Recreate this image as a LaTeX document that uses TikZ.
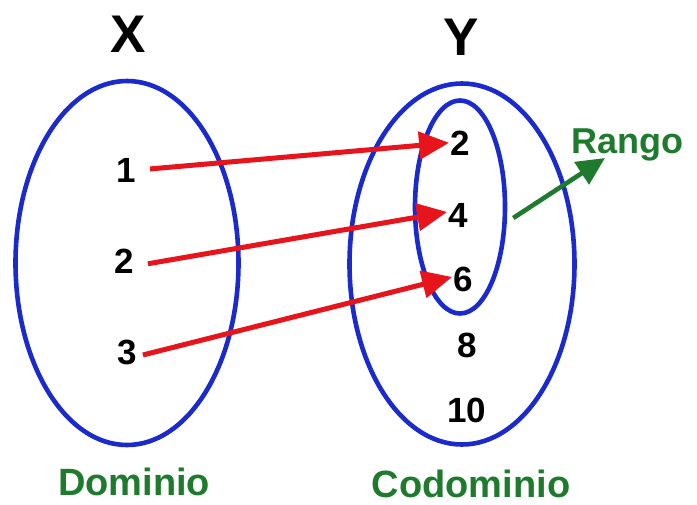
\documentclass[tikz,border=0pt]{standalone}
\usepackage{fontspec}
\setmainfont{Liberation Sans}
\usetikzlibrary{shapes.geometric,arrows.meta}
\definecolor{setblue}{HTML}{1A2ACC}
\definecolor{arrred}{HTML}{E8141C}
\definecolor{lblgreen}{HTML}{1E7B2E}
\tikzset{
  setshape/.style={draw=setblue, line width=4.6pt, ellipse, inner sep=0pt},
  num/.style={font=\fontsize{35}{35}\selectfont\bfseries, inner sep=0pt, anchor=base},
  setname/.style={font=\fontsize{53}{53}\selectfont\bfseries, inner sep=0pt, anchor=base},
  grlabel/.style={font=\fontsize{38}{38}\selectfont\bfseries, text=lblgreen, inner sep=0pt, anchor=base},
  redarr/.style={draw=arrred, line width=5pt, -{Triangle[length=30pt,width=27pt]}},
  grnarr/.style={draw=lblgreen, line width=4.6pt, -{Triangle[length=28pt,width=26pt]}}
}
\begin{document}
\begin{tikzpicture}[x=1pt,y=-1pt]
\useasboundingbox (0,0) rectangle (697,504);
% sets
\node[setshape, minimum width=223pt, minimum height=364pt] (dom) at (127,263) {};
\node[setshape, minimum width=225pt, minimum height=361pt] (cod) at (462,264) {};
\node[setshape, minimum width=90pt, minimum height=213pt] (ran) at (460,207) {};
% titles
\node[setname] (tX) at (128,52) {X};
\node[setname] (tY) at (461,55) {Y};
% domain elements
\node[num] (l1) at (126,182) {1};
\node[num] (l2) at (124,273) {2};
\node[num] (l3) at (127,364) {3};
% codomain elements
\node[num] (r2) at (460,155) {2};
\node[num] (r4) at (458,227) {4};
\node[num] (r6) at (463,291) {6};
\node[num] (r8) at (467,357) {8};
\node[num] (r10) at (467,422) {10};
% labels
\node[grlabel] (ldom) at (134,495) {Dominio};
\node[grlabel] (lcod) at (471,497) {Codominio};
\node[grlabel, font=\fontsize{36}{36}\selectfont\bfseries, anchor=base west] (lran) at (571,153) {Rango};
% mapping arrows
\draw[redarr] ([xshift=14pt,yshift=1pt]l1.east) -- ([xshift=-1pt]r2.west);
\draw[redarr] ([xshift=14pt,yshift=-3pt]l2.east) -- ([xshift=-1pt,yshift=3pt]r4.west);
\draw[redarr] ([xshift=6pt,yshift=-3pt]l3.east) -- ([xshift=-1pt,yshift=2pt]r6.west);
% range arrow
\coordinate (gtip) at (605,158);
\draw[grnarr] ([xshift=6pt,yshift=-11pt]ran.east) -- (gtip);
\end{tikzpicture}
\end{document}
